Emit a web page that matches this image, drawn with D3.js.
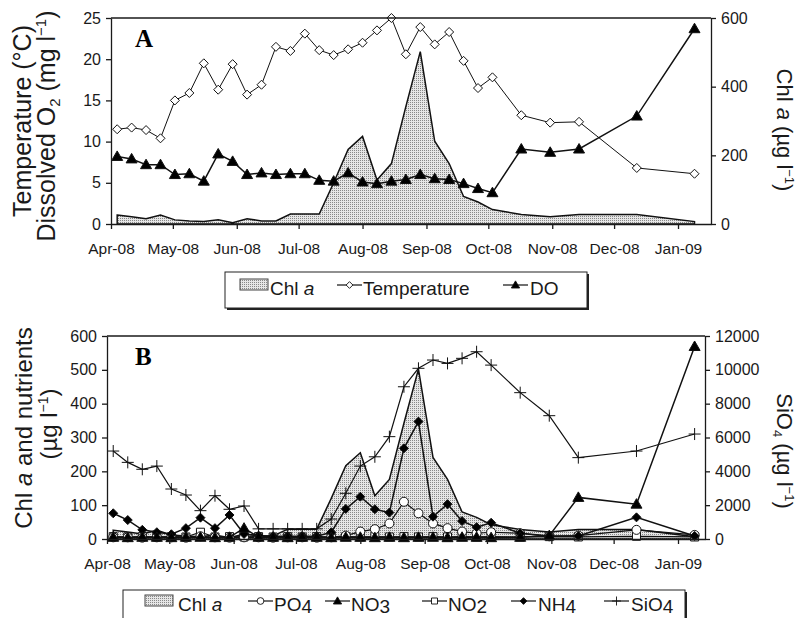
<!DOCTYPE html>
<html>
<head>
<meta charset="utf-8">
<script src="https://d3js.org/d3.v7.min.js"></script>
<style>
body { margin: 0; background: #fff; }
svg { display: block; font-family: "Liberation Sans", Arial, sans-serif; }
.axis path, .axis line { stroke: #1a1a1a; stroke-width: 1.3; }
.axis text { font-size: 16px; fill: #1a1a1a; font-family: "Liberation Sans", Arial, sans-serif; }
.title { font-size: 25px; fill: #1a1a1a; }
.legend text { font-size: 19px; fill: #1a1a1a; }
</style>
</head>
<body>
<svg width="801" height="618"></svg>
<script>
// sampling dates
var dates = ["2008-04-04","2008-04-11","2008-04-18","2008-04-25","2008-05-02","2008-05-09",
  "2008-05-16","2008-05-23","2008-05-30","2008-06-06","2008-06-13","2008-06-20","2008-06-27",
  "2008-07-04","2008-07-11","2008-07-18","2008-07-25","2008-08-01","2008-08-08","2008-08-15",
  "2008-08-22","2008-08-29","2008-09-05","2008-09-12","2008-09-19","2008-09-26","2008-10-03",
  "2008-10-17","2008-10-31","2008-11-14","2008-12-12","2009-01-09"];

// panel A
var temperature = [11.5, 11.7, 11.4, 10.4, 15.0, 15.9, 19.5, 16.3, 19.4, 15.7, 16.9, 21.5, 21.0,
  23.1, 21.1, 20.5, 21.2, 22.0, 23.5, 25.0, 20.6, 23.9, 21.8, 23.3, 19.8, 16.5, 17.8, 13.2, 12.3,
  12.4, 6.8, 6.1];
var dissolvedO2 = [8.2, 7.9, 7.2, 7.2, 6.0, 6.1, 5.2, 8.5, 7.6, 6.0, 6.2, 6.0, 6.1, 6.1, 5.3, 5.2,
  6.2, 5.1, 4.9, 5.2, 5.4, 6.0, 5.5, 5.4, 4.9, 4.3, 3.8, 9.1, 8.7, 9.1, 13.1, 23.7];
var chlA = [26, 21, 15, 26, 12, 9, 7, 12, 4, 15, 9, 9, 29, 29, 29, 120, 217, 255, 128, 176, 342,
  502, 241, 176, 80, 64, 42, 28, 21, 28, 28, 7];

// panel B
var po4 = [5, 5, 4, 5, 5, 4, 8, 5, 4, 5, 5, 4, 5, 5, 4, 5, 10, 22, 29, 46, 110, 76, 46, 32, 22,
  17, 20, 17, 8, 10, 27, 12];
var no3 = [5, 4, 5, 5, 4, 5, 5, 4, 5, 32, 5, 5, 4, 5, 5, 4, 5, 5, 4, 5, 4, 5, 5, 4, 5, 5, 4, 5,
  10, 123, 103, 569];
var no2 = [7, 6, 7, 6, 7, 6, 20, 6, 7, 6, 7, 6, 7, 6, 7, 6, 7, 6, 7, 6, 7, 6, 7, 6, 7, 6, 7, 6,
  7, 6, 8, 6];
var nh4 = [76, 56, 27, 20, 14, 32, 63, 32, 71, 15, 10, 8, 8, 8, 8, 20, 89, 125, 88, 78, 268, 347,
  66, 103, 53, 35, 48, 17, 9, 9, 64, 9];
var sio4 = [5200, 4530, 4120, 4310, 2955, 2600, 1675, 2560, 1755, 1950, 600, 600, 600, 600, 600,
  1180, 2700, 4310, 4860, 6050, 9000, 10090, 10580, 10380, 10680, 11070, 10280, 8650, 7290, 4810,
  5200, 6205];

var ticksA = [0, 5, 10, 15, 20, 25];
var ticksA2 = [0, 200, 400, 600];
var ticksB = [0, 100, 200, 300, 400, 500, 600];
var ticksB2 = [0, 2000, 4000, 6000, 8000, 10000, 12000];

var parse = d3.utcParse("%Y-%m-%d");
var days = dates.map(parse);

var diamond = "M0,-4.5L4.5,0L0,4.5L-4.5,0Z";
var triangle = "M0,-5.5L5.5,4L-5.5,4Z";
var square = "M-4,-4H4V4H-4Z";
var cross = "M-6,0H6M0,-6V6";
var circle = d3.symbol(d3.symbolCircle, 64)();

var svg = d3.select("svg");

var pat = svg.append("defs").append("pattern")
  .attr("id", "stipple").attr("width", 2).attr("height", 2)
  .attr("patternUnits", "userSpaceOnUse");
pat.append("rect").attr("width", 2).attr("height", 2).attr("fill", "#e6e6e6");
pat.append("rect").attr("width", 1).attr("height", 1).attr("fill", "#888");

function drawAxes(x, yl, yr, tl, tr) {
  var x0 = x.range()[0], x1 = x.range()[1];
  svg.append("line").attr("x1", x0).attr("x2", x1)
    .attr("y1", yl.range()[1]).attr("y2", yl.range()[1])
    .attr("stroke", "#1a1a1a").attr("stroke-width", 1.3);
  svg.append("g").attr("class", "axis")
    .attr("transform", "translate(0," + yl.range()[0] + ")")
    .call(d3.axisBottom(x).ticks(d3.utcMonth.every(1)).tickFormat(d3.utcFormat("%b-%y"))
      .tickSize(5).tickSizeOuter(0).tickPadding(14))
    .selectAll("text").style("font-size", "15.5px");
  svg.append("g").attr("class", "axis")
    .attr("transform", "translate(" + x0 + ",0)")
    .call(d3.axisLeft(yl).tickValues(tl).tickFormat(d3.format("d"))
      .tickSize(5).tickSizeOuter(0).tickPadding(5));
  svg.append("g").attr("class", "axis")
    .attr("transform", "translate(" + x1 + ",0)")
    .call(d3.axisRight(yr).tickValues(tr).tickFormat(d3.format("d"))
      .tickSize(5).tickSizeOuter(0).tickPadding(5));
}

function drawArea(x, y, vals) {
  svg.append("path").datum(vals)
    .attr("d", d3.area().x(function(v, i) { return x(days[i]); })
      .y0(y(0)).y1(function(v) { return y(v); }))
    .attr("fill", "url(#stipple)").attr("stroke", "#111").attr("stroke-width", 1.5);
}

function drawSeries(x, y, vals, marker, fill, lw) {
  svg.append("path").datum(vals)
    .attr("d", d3.line().x(function(v, i) { return x(days[i]); }).y(function(v) { return y(v); }))
    .attr("fill", "none").attr("stroke", "#111").attr("stroke-width", lw);
  svg.append("g").selectAll("path").data(vals).enter().append("path")
    .attr("transform", function(v, i) { return "translate(" + x(days[i]) + "," + y(v) + ")"; })
    .attr("d", marker).attr("fill", fill).attr("stroke", "#111").attr("stroke-width", 1);
}

// rotated title; parts are [text, kind, dy in px]
function rotTitle(px, py, angle, parts, size) {
  var t = svg.append("text").attr("class", "title")
    .attr("transform", "translate(" + px + "," + py + ") rotate(" + angle + ")")
    .attr("text-anchor", "middle").style("font-size", size + "px");
  parts.forEach(function(p) {
    var s = t.append("tspan").text(p[0]);
    if (p[1] == "i") s.style("font-style", "italic");
    if (p[1] == "sub" || p[1] == "sup") s.style("font-size", Math.round(size * 0.6) + "px");
    if (p[2]) s.attr("dy", p[2]);
  });
}

function legendItem(g, lx, ly, marker, fill, label, tx, sub) {
  if (marker == "area") {
    g.append("rect").attr("x", lx).attr("y", ly - 6).attr("width", 28).attr("height", 11)
      .attr("fill", "url(#stipple)").attr("stroke", "#444").attr("stroke-width", 1);
  } else {
    g.append("line").attr("x1", lx).attr("x2", lx + 25).attr("y1", ly).attr("y2", ly)
      .attr("stroke", "#111").attr("stroke-width", 1.2);
    g.append("path").attr("transform", "translate(" + (lx + 12.5) + "," + ly + ") scale(0.75)")
      .attr("d", marker).attr("fill", fill).attr("stroke", "#111").attr("stroke-width", 1.2);
  }
  var t = g.append("text").attr("x", tx).attr("y", ly + 10);
  if (label == "Chl a") {
    t.append("tspan").text("Chl ");
    t.append("tspan").style("font-style", "italic").text("a");
  } else {
    t.append("tspan").text(label);
    if (sub) t.append("tspan").attr("dy", 2).text(sub);
  }
}

// ---------- panel A ----------
var xA = d3.scaleUtc().domain([parse("2008-04-01"), parse("2009-01-17")]).range([111, 711]);
var yA = d3.scaleLinear().domain([0, 25]).range([224, 18]);
var yA2 = d3.scaleLinear().domain([0, 600]).range([224, 18]);

drawArea(xA, yA2, chlA);
drawSeries(xA, yA, temperature, diamond, "#fff", 1);
drawSeries(xA, yA, dissolvedO2, triangle, "#000", 1.5);
drawAxes(xA, yA, yA2, ticksA, ticksA2);

svg.append("text").attr("x", 135).attr("y", 47).text("A")
  .style("font-family", "'Liberation Serif', 'Times New Roman', serif")
  .style("font-weight", "bold").style("font-size", "25px");

rotTitle(31, 121, -90, [["Temperature (°C)"]], 25);
rotTitle(55, 126, -90, [["Dissolved O"], ["2", "sub", 5], [" (mg l", "", -5], ["−1", "sup", -9],
  [")", "", 9]], 25);
rotTitle(777, 130, 90, [["Chl "], ["a", "i"], ["  (µg l"], ["−1", "sup", -8], [")", "", 8]], 22);

var legA = svg.append("g").attr("class", "legend");
legA.append("rect").attr("x", 227).attr("y", 274).attr("width", 362).attr("height", 36).attr("fill", "#222");
legA.append("rect").attr("x", 225).attr("y", 272).attr("width", 362).attr("height", 36)
  .attr("fill", "#fff").attr("stroke", "#222").attr("stroke-width", 1);
legendItem(legA, 240, 285, "area", null, "Chl a", 270);
legendItem(legA, 337, 285, diamond, "#fff", "Temperature", 363);
legendItem(legA, 503, 285, triangle, "#000", "DO", 530);

// ---------- panel B ----------
var xB = d3.scaleUtc().domain([parse("2008-04-01"), parse("2009-01-14")]).range([107, 705]);
var yB = d3.scaleLinear().domain([0, 600]).range([539, 336]);
var yB2 = d3.scaleLinear().domain([0, 12000]).range([539, 336]);

drawArea(xB, yB, chlA);
drawSeries(xB, yB2, sio4, cross, "none", 1.2);
drawSeries(xB, yB, no2, square, "#fff", 1.2);
drawSeries(xB, yB, po4, circle, "#fff", 1.2);
drawSeries(xB, yB, nh4, diamond, "#000", 1.5);
drawSeries(xB, yB, no3, triangle, "#000", 1.5);
drawAxes(xB, yB, yB2, ticksB, ticksB2);

svg.append("text").attr("x", 135).attr("y", 365).text("B")
  .style("font-family", "'Liberation Serif', 'Times New Roman', serif")
  .style("font-weight", "bold").style("font-size", "25px");

rotTitle(32, 428, -90, [["Chl "], ["a", "i"], [" and nutrients"]], 24);
rotTitle(57, 424, -90, [["(µg l"], ["−1", "sup", -9], [")", "", 9]], 24);
rotTitle(777, 451, 90, [["SiO"], ["4", "sub", 4], ["  (µg l", "", -4], ["−1", "sup", -8],
  [")", "", 8]], 22);

var legB = svg.append("g").attr("class", "legend");
legB.append("rect").attr("x", 125).attr("y", 592).attr("width", 562).attr("height", 40).attr("fill", "#222");
legB.append("rect").attr("x", 123).attr("y", 590).attr("width", 562).attr("height", 40)
  .attr("fill", "#fff").attr("stroke", "#222").attr("stroke-width", 1);
legendItem(legB, 145, 601, "area", null, "Chl a", 178);
legendItem(legB, 248, 601, circle, "#fff", "PO", 274, "4");
legendItem(legB, 325, 601, triangle, "#000", "NO", 351, "3");
legendItem(legB, 422, 601, square, "#fff", "NO", 448, "2");
legendItem(legB, 511, 601, diamond, "#000", "NH", 538, "4");
legendItem(legB, 604, 601, cross, "none", "SiO", 631, "4");
</script>
</body>
</html>
